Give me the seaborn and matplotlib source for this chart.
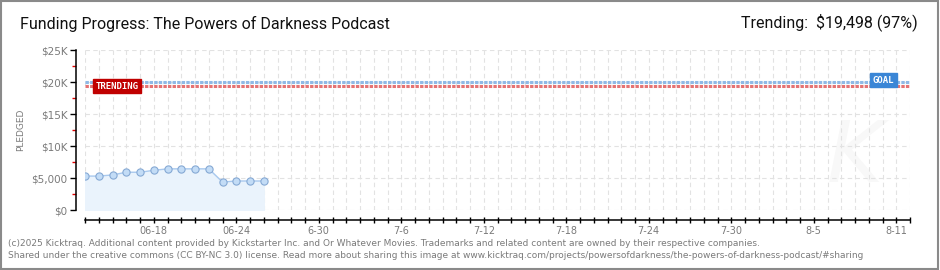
import numpy as np
import pandas as pd
import matplotlib
matplotlib.use("Agg")
import matplotlib.pyplot as plt
import matplotlib.dates as mdates
from matplotlib.ticker import FixedLocator
from matplotlib.patches import Rectangle
import seaborn as sns

# ---- data ----
dates = pd.date_range("2025-06-13", "2025-06-26", freq="D")
pledged = [5300, 5300, 5480, 5900, 5900, 6200, 6430, 6430, 6430, 6430, 4370, 4530, 4530, 4530]
goal = 20000
trending = 19498
tick_dates = ["2025-06-18", "2025-06-24", "2025-06-30", "2025-07-06", "2025-07-12",
              "2025-07-18", "2025-07-24", "2025-07-30", "2025-08-05", "2025-08-11"]
tick_labels = ["06-18", "06-24", "6-30", "7-6", "7-12", "7-18", "7-24", "7-30", "8-5", "8-11"]
y_ticks = [0, 5000, 10000, 15000, 20000, 25000]
y_labels = ["$0", "$5,000", "$10K", "$15K", "$20K", "$25K"]
title = "Funding Progress: The Powers of Darkness Podcast"
trend_text = "Trending:  $19,498 (97%)"
footer1 = "(c)2025 Kicktraq. Additional content provided by Kickstarter Inc. and Or Whatever Movies. Trademarks and related content are owned by their respective companies."
footer2 = "Shared under the creative commons (CC BY-NC 3.0) license. Read more about sharing this image at www.kicktraq.com/projects/powersofdarkness/the-powers-of-darkness-podcast/#sharing"

df = pd.DataFrame({"date": dates, "pledged": pledged})

sns.set_style("white")
plt.rcParams["font.family"] = ["DejaVu Sans"]

W, H = 940, 270
fig = plt.figure(figsize=(W / 100, H / 100), dpi=100)
fig.patch.set_facecolor("white")
fig.patches.append(Rectangle((0.001, 0.002), 0.997, 0.995, transform=fig.transFigure,
                             fill=False, edgecolor="#8a8a8a", linewidth=1.5))

ax = fig.add_axes([85 / W, 1 - 210 / H, (910 - 85) / W, (210 - 50) / H])

x0 = pd.Timestamp("2025-06-13")
x1 = pd.Timestamp("2025-08-12")
ax.set_xlim(x0, x1)
ax.set_ylim(0, 25000)

# watermark
ax.text(pd.Timestamp("2025-08-08"), 8000, "K", fontsize=62, color="#f8f8f8",
        style="italic", ha="center", va="center", zorder=0)

# goal / trending lines
ax.axhline(goal, color="#8fb9e6", linewidth=2.2, linestyle=(0, (1.1, 0.4)), zorder=3)
ax.axhline(trending - 150, color="#e57373", linewidth=2.2, linestyle=(0, (1.1, 0.4)), zorder=3)

# data
ax.fill_between(df["date"], df["pledged"], 0, color="#eaf3fc", zorder=2)
sns.lineplot(data=df, x="date", y="pledged", ax=ax, color="#a9c9ee", linewidth=1,
             marker="o", markersize=5.2, markerfacecolor="#c3dcf6",
             markeredgecolor="#86a9d4", markeredgewidth=0.8, zorder=4)

# labels on lines
ax.text(x0 + pd.Timedelta(days=0.75), trending - 150, "TRENDING", color="white",
        fontsize=6.5, fontweight="bold", family="DejaVu Sans Mono", va="center", ha="left",
        zorder=6, bbox=dict(boxstyle="square,pad=0.3", fc="#c00000", ec="#c00000"))
ax.text(x0 + pd.Timedelta(days=57.3), goal + 300, "GOAL", color="white",
        fontsize=6.5, fontweight="bold", family="DejaVu Sans Mono", va="center", ha="left",
        zorder=6, bbox=dict(boxstyle="square,pad=0.3", fc="#3a86d6", ec="#3a86d6"))

# axes styling
sns.despine(ax=ax, offset={"left": 6.5, "bottom": 7.2})
for s in ("left", "bottom"):
    ax.spines[s].set_color("black")
    ax.spines[s].set_linewidth(1.1)

ax.set_xticks(pd.date_range(x0, x1, freq="D"), minor=True)
ax.set_xticks(pd.to_datetime(tick_dates))
ax.set_xticklabels(tick_labels)
ax.tick_params(axis="x", which="both", bottom=True, direction="inout", length=4.5, width=1,
               color="black", labelsize=7, labelcolor="#7a7a7a", pad=2)

ax.set_yticks(y_ticks)
ax.set_yticklabels(y_labels)
ax.yaxis.set_minor_locator(FixedLocator([2500, 7500, 12500, 17500, 22500]))
ax.tick_params(axis="y", which="major", left=True, direction="out", length=4, width=1,
               color="black", labelsize=7.5, labelcolor="#7a7a7a", pad=2)
ax.tick_params(axis="y", which="minor", left=True, direction="out", length=3, width=1,
               color="#e00000")

# grid
ax.grid(True, which="both", axis="x", color="#e2e2e2", linestyle=(0, (4, 3)), linewidth=0.8)
ax.grid(True, which="major", axis="y", color="#e2e2e2", linestyle=(0, (4, 3)), linewidth=0.8)
ax.set_axisbelow(True)

ax.set_xlabel("")
ax.set_ylabel("PLEDGED", fontsize=6.5, color="#7a7a7a")
ax.yaxis.set_label_coords(-0.073, 0.5)

# header and footer
fig.text(20 / W, 1 - 24 / H, title, fontsize=11.5, color="#111111", va="center", ha="left",
         family=["Roboto", "DejaVu Sans"])
fig.text(918 / W, 1 - 22 / H, trend_text, fontsize=11.5, color="#111111", va="center", ha="right",
         family=["Roboto", "DejaVu Sans"])
fig.text(8 / W, 1 - 243 / H, footer1, fontsize=6.45, color="#7a7a7a", va="center", ha="left")
fig.text(8 / W, 1 - 256 / H, footer2, fontsize=6.45, color="#7a7a7a", va="center", ha="left")

fig.savefig("out.png", dpi=100, facecolor="white")
